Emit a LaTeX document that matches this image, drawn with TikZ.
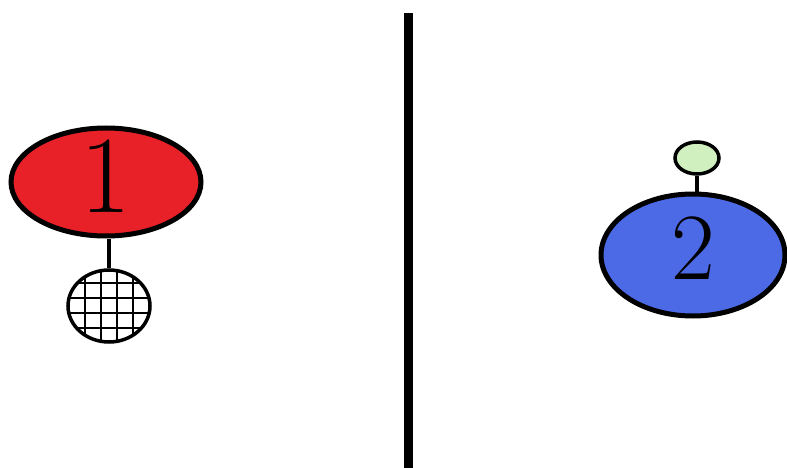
\documentclass[tikz,border=0pt]{standalone}
\usetikzlibrary{shapes.geometric}
\definecolor{redfill}{RGB}{232,32,40}
\definecolor{bluefill}{RGB}{76,106,230}
\definecolor{greenfill}{RGB}{208,240,192}
\tikzset{
  blob/.style={ellipse, draw=black, line width=5pt, inner sep=0pt},
  stem/.style={draw=black, line width=4pt},
}
\begin{document}
\begin{tikzpicture}[x=1pt,y=-1pt]
\useasboundingbox[fill=white] (0,0) rectangle (787,468);
\node[blob, fill=redfill, minimum width=190pt, minimum height=108pt] (one) at (106,182) {};
\node at (106,176) {\fontsize{110}{110}\selectfont 1};
\node[blob, line width=3.5pt, fill=white, minimum width=82pt, minimum height=72pt,
  path picture={\foreach \gx in {-24,-8,8,24} \draw[line width=1.2pt] ([xshift=\gx pt]path picture bounding box.north) -- ([xshift=\gx pt]path picture bounding box.south);
    \foreach \gy in {-22,-7,8,23} \draw[line width=1.2pt] ([yshift=\gy pt]path picture bounding box.west) -- ([yshift=\gy pt]path picture bounding box.east);}] (hatch) at (109,306) {};
\draw[stem] (hatch.north |- one.south) -- (hatch.north);
\node[blob, fill=bluefill, minimum width=184pt, minimum height=122pt] (two) at (693,255) {};
\node at (693,248) {\fontsize{95}{95}\selectfont 2};
\node[blob, line width=3.5pt, fill=greenfill, minimum width=44pt, minimum height=32pt] (tip) at (697,158) {};
\draw[stem] (tip.south) -- (tip.south |- two.north);
\coordinate (top) at (408,13);
\coordinate (bottom) at (408,468);
\draw[line width=9pt] (top) -- (bottom);
\end{tikzpicture}
\end{document}
